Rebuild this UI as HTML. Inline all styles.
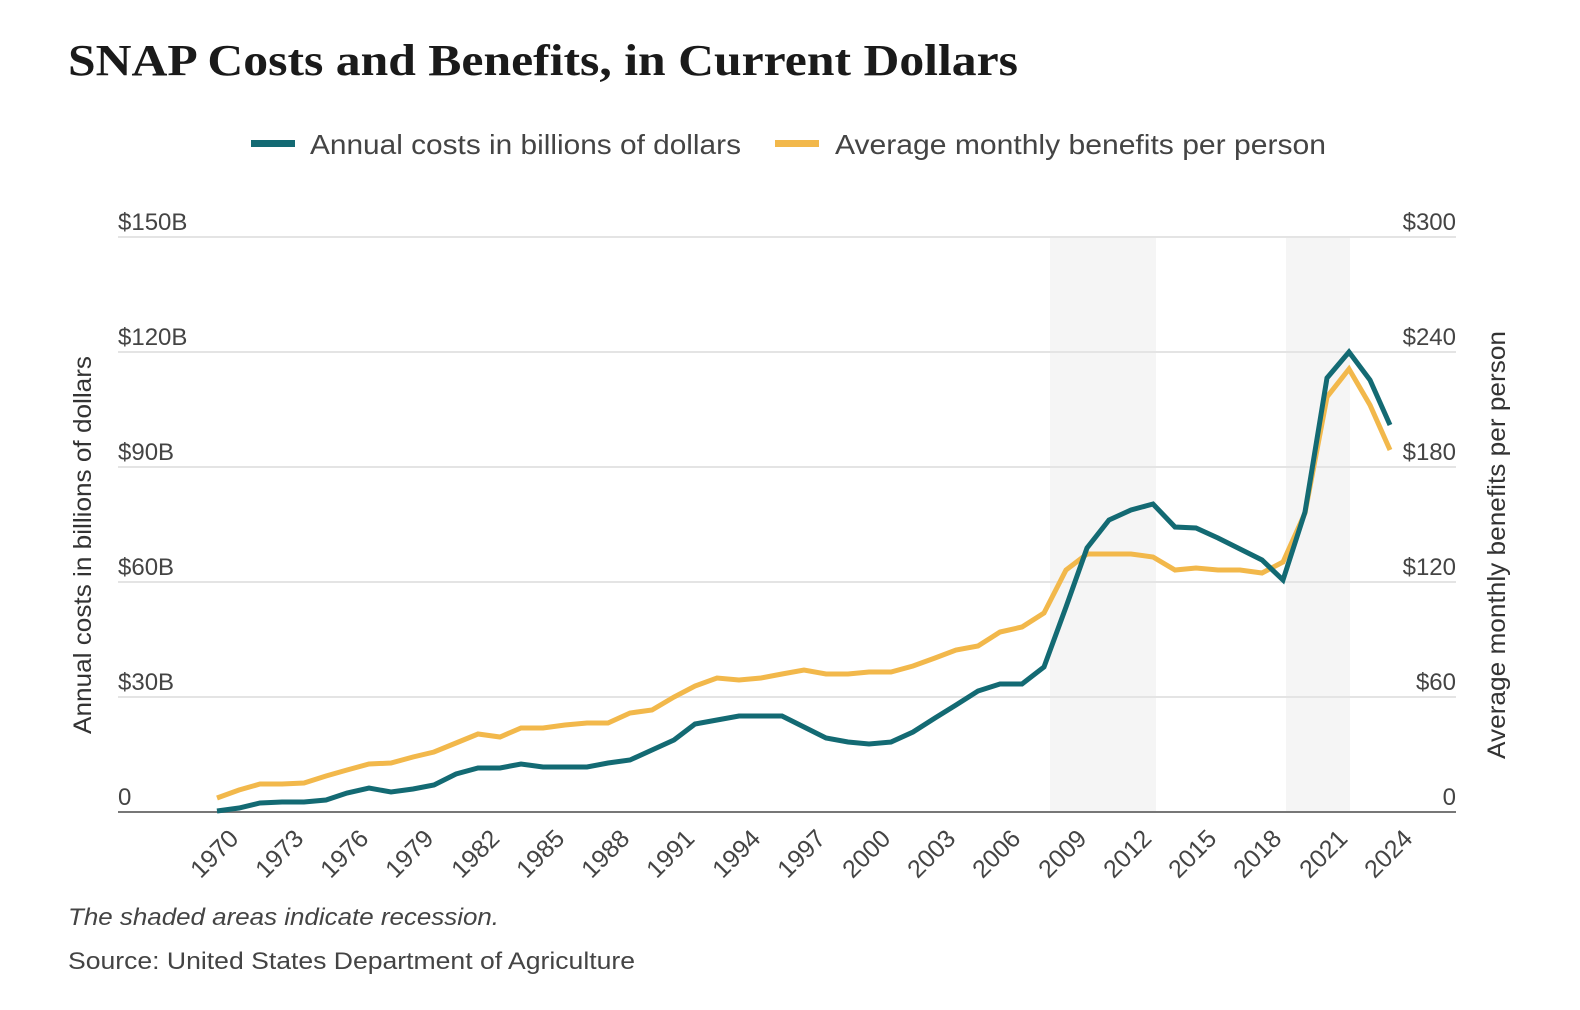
<!DOCTYPE html>
<html><head><meta charset="utf-8"><style>
html,body{margin:0;padding:0;background:#fff;}
svg{display:block;}
</style></head><body>
<svg width="1580" height="1010" viewBox="0 0 1580 1010" xmlns="http://www.w3.org/2000/svg">
<rect width="1580" height="1010" fill="#fff"/>
<text x="68" y="75" font-family="Liberation Serif, serif" font-weight="bold" font-size="44" fill="#1a1a1a" textLength="950" lengthAdjust="spacingAndGlyphs">SNAP Costs and Benefits, in Current Dollars</text>
<rect x="251" y="140" width="44" height="7" fill="#136a73"/>
<text x="310" y="154" font-family="Liberation Sans, sans-serif" font-size="28" fill="#444" textLength="431" lengthAdjust="spacingAndGlyphs">Annual costs in billions of dollars</text>
<rect x="775" y="140" width="44" height="7" fill="#f2b84b"/>
<text x="835" y="154" font-family="Liberation Sans, sans-serif" font-size="28" fill="#444" textLength="491" lengthAdjust="spacingAndGlyphs">Average monthly benefits per person</text>
<rect x="1050" y="237" width="106" height="574" fill="#f5f5f5"/>
<rect x="1286" y="237" width="64" height="574" fill="#f5f5f5"/>
<g stroke="#e4e4e4" stroke-width="2">
<line x1="118" y1="237" x2="1456" y2="237"/>
<line x1="118" y1="352" x2="1456" y2="352"/>
<line x1="118" y1="467" x2="1456" y2="467"/>
<line x1="118" y1="582" x2="1456" y2="582"/>
<line x1="118" y1="697" x2="1456" y2="697"/>
</g>
<line x1="118" y1="812" x2="1456" y2="812" stroke="#777" stroke-width="2"/>
<g font-family="Liberation Sans, sans-serif" font-size="24" fill="#444">
<text x="118" y="230">$150B</text><text x="118" y="345">$120B</text><text x="118" y="460">$90B</text><text x="118" y="575">$60B</text><text x="118" y="690">$30B</text><text x="118" y="805">0</text>
</g>
<g font-family="Liberation Sans, sans-serif" font-size="24" fill="#444" text-anchor="end">
<text x="1456" y="230">$300</text><text x="1456" y="345">$240</text><text x="1456" y="460">$180</text><text x="1456" y="575">$120</text><text x="1456" y="690">$60</text><text x="1456" y="805">0</text>
</g>
<text transform="translate(91,545) rotate(-90)" text-anchor="middle" font-family="Liberation Sans, sans-serif" font-size="25" fill="#333" textLength="378" lengthAdjust="spacingAndGlyphs">Annual costs in billions of dollars</text>
<text transform="translate(1505,545) rotate(-90)" text-anchor="middle" font-family="Liberation Sans, sans-serif" font-size="25" fill="#333" textLength="428" lengthAdjust="spacingAndGlyphs">Average monthly benefits per person</text>
<g font-family="Liberation Sans, sans-serif" font-size="25" fill="#444" text-anchor="end">
<text transform="translate(240,840) rotate(-45)">1970</text>
<text transform="translate(305,840) rotate(-45)">1973</text>
<text transform="translate(370,840) rotate(-45)">1976</text>
<text transform="translate(435,840) rotate(-45)">1979</text>
<text transform="translate(501,840) rotate(-45)">1982</text>
<text transform="translate(566,840) rotate(-45)">1985</text>
<text transform="translate(631,840) rotate(-45)">1988</text>
<text transform="translate(696,840) rotate(-45)">1991</text>
<text transform="translate(762,840) rotate(-45)">1994</text>
<text transform="translate(827,840) rotate(-45)">1997</text>
<text transform="translate(892,840) rotate(-45)">2000</text>
<text transform="translate(957,840) rotate(-45)">2003</text>
<text transform="translate(1022,840) rotate(-45)">2006</text>
<text transform="translate(1088,840) rotate(-45)">2009</text>
<text transform="translate(1153,840) rotate(-45)">2012</text>
<text transform="translate(1218,840) rotate(-45)">2015</text>
<text transform="translate(1283,840) rotate(-45)">2018</text>
<text transform="translate(1349,840) rotate(-45)">2021</text>
<text transform="translate(1414,840) rotate(-45)">2024</text>
</g>
<polyline fill="none" stroke="#f2b84b" stroke-width="5" stroke-linejoin="miter" points="217,798 239,790 260,784 282,784 304,783 326,776 347,770 369,764 391,763 413,757 434,752 456,743 478,734 500,737 521,728 543,728 565,725 587,723 608,723 630,713 652,710 674,697 695,686 717,678 739,680 761,678 782,674 804,670 826,674 848,674 869,672 891,672 913,666 935,658 956,650 978,646 1000,632 1022,627 1044,613 1066,570 1087,554 1109,554 1131,554 1153,557 1175,570 1196,568 1218,570 1240,570 1262,573 1283,562 1305,513 1327,397 1349,369 1370,405 1390,450"/>
<polyline fill="none" stroke="#136a73" stroke-width="5" stroke-linejoin="miter" points="217,811 239,808 260,803 282,802 304,802 326,800 347,793 369,788 391,792 413,789 434,785 456,774 478,768 500,768 521,764 543,767 565,767 587,767 608,763 630,760 652,750 674,740 695,724 717,720 739,716 761,716 782,716 804,727 826,738 848,742 869,744 891,742 913,732 935,718 956,705 978,691 1000,684 1022,684 1044,667 1066,607 1087,548 1109,520 1131,510 1153,504 1175,527 1196,528 1218,538 1240,549 1262,560 1283,580 1305,512 1327,378 1349,352 1370,380 1390,425"/>
<text x="68" y="925" font-family="Liberation Sans, sans-serif" font-style="italic" font-size="24" fill="#444" textLength="431" lengthAdjust="spacingAndGlyphs">The shaded areas indicate recession.</text>
<text x="68" y="969" font-family="Liberation Sans, sans-serif" font-size="24" fill="#444" textLength="567" lengthAdjust="spacingAndGlyphs">Source: United States Department of Agriculture</text>
</svg>
</body></html>
